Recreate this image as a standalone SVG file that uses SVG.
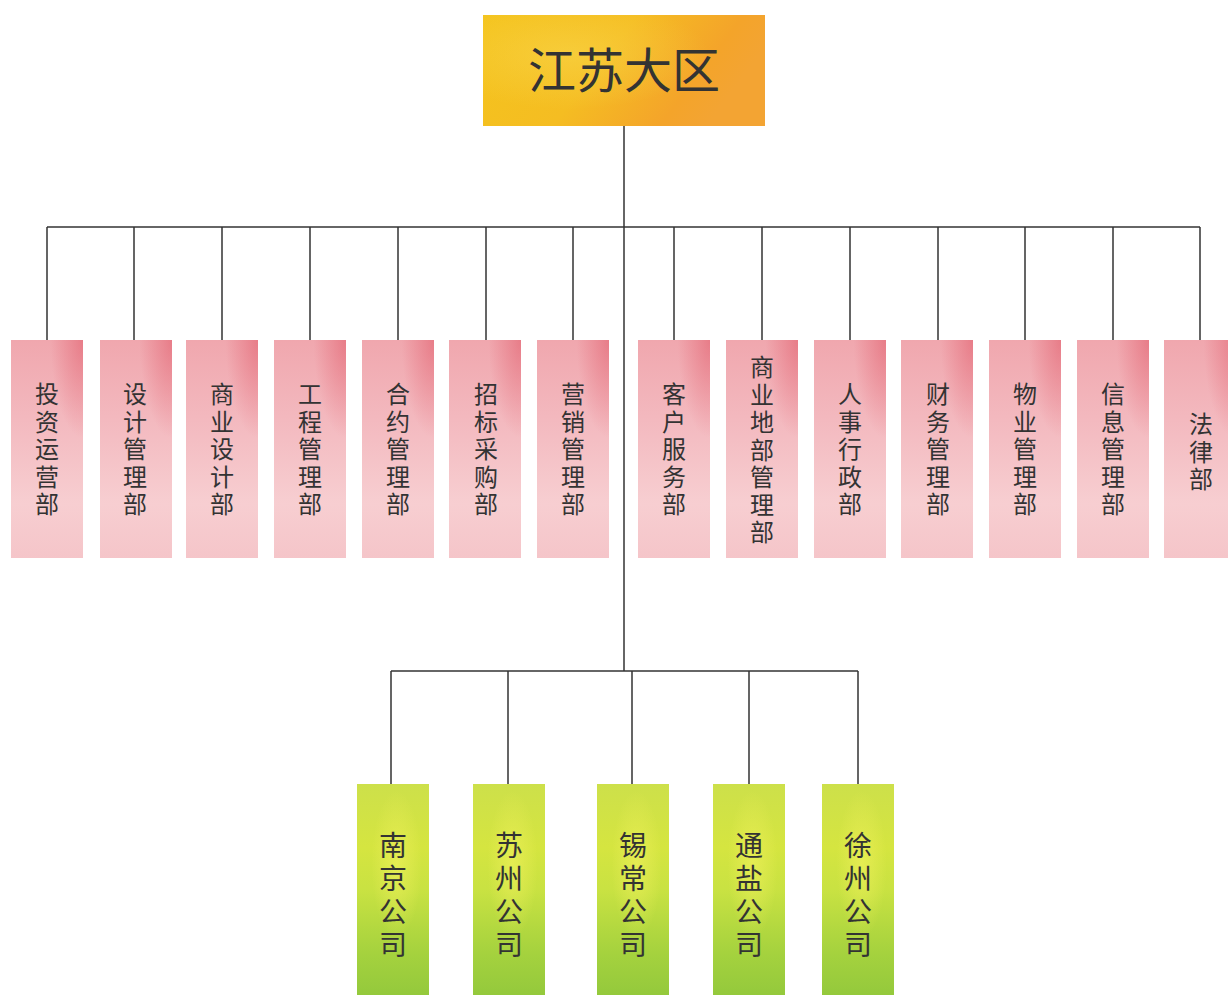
<svg xmlns="http://www.w3.org/2000/svg" width="1228" height="995" viewBox="0 0 1228 995">
<defs>
<linearGradient id="gY" x1="0" y1="0" x2="1" y2="0.3">
<stop offset="0" stop-color="#f4c41d"/>
<stop offset="0.5" stop-color="#f5bd22"/>
<stop offset="0.85" stop-color="#f4a42a"/>
<stop offset="1" stop-color="#f3a433"/>
</linearGradient>
<radialGradient id="gYh" cx="0.3" cy="0.35" r="0.5">
<stop offset="0" stop-color="#f9d54a" stop-opacity="0.6"/>
<stop offset="1" stop-color="#f9d54a" stop-opacity="0"/>
</radialGradient>
<linearGradient id="gP" x1="0" y1="0" x2="0" y2="1">
<stop offset="0" stop-color="#f0a7ae"/>
<stop offset="0.35" stop-color="#f3b8be"/>
<stop offset="0.75" stop-color="#f7ced1"/>
<stop offset="1" stop-color="#f5c5c9"/>
</linearGradient>
<radialGradient id="gPh" cx="1" cy="0" r="0.45">
<stop offset="0" stop-color="#e2606f" stop-opacity="0.6"/>
<stop offset="1" stop-color="#e2606f" stop-opacity="0"/>
</radialGradient>
<linearGradient id="gG" x1="0" y1="0" x2="0" y2="1">
<stop offset="0" stop-color="#cde04a"/>
<stop offset="0.3" stop-color="#d5e540"/>
<stop offset="0.5" stop-color="#c9e242"/>
<stop offset="0.8" stop-color="#a5d23e"/>
<stop offset="1" stop-color="#94c93c"/>
</linearGradient>
<radialGradient id="gGh" cx="0.55" cy="0.38" r="0.35">
<stop offset="0" stop-color="#eef05a" stop-opacity="0.7"/>
<stop offset="1" stop-color="#eef05a" stop-opacity="0"/>
</radialGradient>
</defs>
<style>
.ln{stroke:#333;stroke-width:1.5;fill:none}
.t{font-family:"Noto Sans CJK SC","Noto Sans",sans-serif;fill:#333;text-anchor:middle}
.td{font-size:24px}
.tc{font-size:28px}
.tt{font-size:48px}
</style>
<rect width="1228" height="995" fill="#ffffff"/>
<g id="connectors">
<path class="ln" d="M624 126V671"/>
<path class="ln" d="M47 227H1200"/>
<path class="ln" d="M47 227V340M134 227V340M222 227V340M310 227V340M398 227V340M486 227V340M573 227V340M674 227V340M762 227V340M850 227V340M938 227V340M1025 227V340M1113 227V340M1200 227V340"/>
<path class="ln" d="M391 671H858"/>
<path class="ln" d="M391 671V784M508 671V784M632 671V784M749 671V784M858 671V784"/>
</g>
<g id="root">
<rect x="483" y="15" width="282" height="111" fill="url(#gY)"/>
<rect x="483" y="15" width="282" height="111" fill="url(#gYh)"/>
<text class="t tt" x="624" y="88">江苏大区</text>
</g>
<g id="dept1"><rect x="11" y="340" width="72" height="218" fill="url(#gP)"/><rect x="11" y="340" width="72" height="218" fill="url(#gPh)"/>
<text class="t td"><tspan x="47" y="403">投</tspan><tspan x="47" dy="27.5">资</tspan><tspan x="47" dy="27.5">运</tspan><tspan x="47" dy="27.5">营</tspan><tspan x="47" dy="27.5">部</tspan></text></g>
<g id="dept2"><rect x="100" y="340" width="72" height="218" fill="url(#gP)"/><rect x="100" y="340" width="72" height="218" fill="url(#gPh)"/>
<text class="t td"><tspan x="135" y="403">设</tspan><tspan x="135" dy="27.5">计</tspan><tspan x="135" dy="27.5">管</tspan><tspan x="135" dy="27.5">理</tspan><tspan x="135" dy="27.5">部</tspan></text></g>
<g id="dept3"><rect x="186" y="340" width="72" height="218" fill="url(#gP)"/><rect x="186" y="340" width="72" height="218" fill="url(#gPh)"/>
<text class="t td"><tspan x="222" y="403">商</tspan><tspan x="222" dy="27.5">业</tspan><tspan x="222" dy="27.5">设</tspan><tspan x="222" dy="27.5">计</tspan><tspan x="222" dy="27.5">部</tspan></text></g>
<g id="dept4"><rect x="274" y="340" width="72" height="218" fill="url(#gP)"/><rect x="274" y="340" width="72" height="218" fill="url(#gPh)"/>
<text class="t td"><tspan x="310" y="403">工</tspan><tspan x="310" dy="27.5">程</tspan><tspan x="310" dy="27.5">管</tspan><tspan x="310" dy="27.5">理</tspan><tspan x="310" dy="27.5">部</tspan></text></g>
<g id="dept5"><rect x="362" y="340" width="72" height="218" fill="url(#gP)"/><rect x="362" y="340" width="72" height="218" fill="url(#gPh)"/>
<text class="t td"><tspan x="398" y="403">合</tspan><tspan x="398" dy="27.5">约</tspan><tspan x="398" dy="27.5">管</tspan><tspan x="398" dy="27.5">理</tspan><tspan x="398" dy="27.5">部</tspan></text></g>
<g id="dept6"><rect x="449" y="340" width="72" height="218" fill="url(#gP)"/><rect x="449" y="340" width="72" height="218" fill="url(#gPh)"/>
<text class="t td"><tspan x="486" y="403">招</tspan><tspan x="486" dy="27.5">标</tspan><tspan x="486" dy="27.5">采</tspan><tspan x="486" dy="27.5">购</tspan><tspan x="486" dy="27.5">部</tspan></text></g>
<g id="dept7"><rect x="537" y="340" width="72" height="218" fill="url(#gP)"/><rect x="537" y="340" width="72" height="218" fill="url(#gPh)"/>
<text class="t td"><tspan x="573" y="403">营</tspan><tspan x="573" dy="27.5">销</tspan><tspan x="573" dy="27.5">管</tspan><tspan x="573" dy="27.5">理</tspan><tspan x="573" dy="27.5">部</tspan></text></g>
<g id="dept8"><rect x="638" y="340" width="72" height="218" fill="url(#gP)"/><rect x="638" y="340" width="72" height="218" fill="url(#gPh)"/>
<text class="t td"><tspan x="674" y="403">客</tspan><tspan x="674" dy="27.5">户</tspan><tspan x="674" dy="27.5">服</tspan><tspan x="674" dy="27.5">务</tspan><tspan x="674" dy="27.5">部</tspan></text></g>
<g id="dept9"><rect x="726" y="340" width="72" height="218" fill="url(#gP)"/><rect x="726" y="340" width="72" height="218" fill="url(#gPh)"/>
<text class="t td"><tspan x="762" y="376">商</tspan><tspan x="762" dy="27.5">业</tspan><tspan x="762" dy="27.5">地</tspan><tspan x="762" dy="27.5">部</tspan><tspan x="762" dy="27.5">管</tspan><tspan x="762" dy="27.5">理</tspan><tspan x="762" dy="27.5">部</tspan></text></g>
<g id="dept10"><rect x="814" y="340" width="72" height="218" fill="url(#gP)"/><rect x="814" y="340" width="72" height="218" fill="url(#gPh)"/>
<text class="t td"><tspan x="850" y="403">人</tspan><tspan x="850" dy="27.5">事</tspan><tspan x="850" dy="27.5">行</tspan><tspan x="850" dy="27.5">政</tspan><tspan x="850" dy="27.5">部</tspan></text></g>
<g id="dept11"><rect x="901" y="340" width="72" height="218" fill="url(#gP)"/><rect x="901" y="340" width="72" height="218" fill="url(#gPh)"/>
<text class="t td"><tspan x="938" y="403">财</tspan><tspan x="938" dy="27.5">务</tspan><tspan x="938" dy="27.5">管</tspan><tspan x="938" dy="27.5">理</tspan><tspan x="938" dy="27.5">部</tspan></text></g>
<g id="dept12"><rect x="989" y="340" width="72" height="218" fill="url(#gP)"/><rect x="989" y="340" width="72" height="218" fill="url(#gPh)"/>
<text class="t td"><tspan x="1025" y="403">物</tspan><tspan x="1025" dy="27.5">业</tspan><tspan x="1025" dy="27.5">管</tspan><tspan x="1025" dy="27.5">理</tspan><tspan x="1025" dy="27.5">部</tspan></text></g>
<g id="dept13"><rect x="1077" y="340" width="72" height="218" fill="url(#gP)"/><rect x="1077" y="340" width="72" height="218" fill="url(#gPh)"/>
<text class="t td"><tspan x="1113" y="403">信</tspan><tspan x="1113" dy="27.5">息</tspan><tspan x="1113" dy="27.5">管</tspan><tspan x="1113" dy="27.5">理</tspan><tspan x="1113" dy="27.5">部</tspan></text></g>
<g id="dept14"><rect x="1164" y="340" width="72" height="218" fill="url(#gP)"/><rect x="1164" y="340" width="72" height="218" fill="url(#gPh)"/>
<text class="t td"><tspan x="1201" y="433">法</tspan><tspan x="1201" dy="27.5">律</tspan><tspan x="1201" dy="27.5">部</tspan></text></g>
<g id="co1"><rect x="357" y="784" width="72" height="211" fill="url(#gG)"/><rect x="357" y="784" width="72" height="211" fill="url(#gGh)"/>
<text class="t tc"><tspan x="393" y="856">南</tspan><tspan x="393" dy="33">京</tspan><tspan x="393" dy="33">公</tspan><tspan x="393" dy="33">司</tspan></text></g>
<g id="co2"><rect x="473" y="784" width="72" height="211" fill="url(#gG)"/><rect x="473" y="784" width="72" height="211" fill="url(#gGh)"/>
<text class="t tc"><tspan x="509" y="856">苏</tspan><tspan x="509" dy="33">州</tspan><tspan x="509" dy="33">公</tspan><tspan x="509" dy="33">司</tspan></text></g>
<g id="co3"><rect x="597" y="784" width="72" height="211" fill="url(#gG)"/><rect x="597" y="784" width="72" height="211" fill="url(#gGh)"/>
<text class="t tc"><tspan x="633" y="856">锡</tspan><tspan x="633" dy="33">常</tspan><tspan x="633" dy="33">公</tspan><tspan x="633" dy="33">司</tspan></text></g>
<g id="co4"><rect x="713" y="784" width="72" height="211" fill="url(#gG)"/><rect x="713" y="784" width="72" height="211" fill="url(#gGh)"/>
<text class="t tc"><tspan x="749" y="856">通</tspan><tspan x="749" dy="33">盐</tspan><tspan x="749" dy="33">公</tspan><tspan x="749" dy="33">司</tspan></text></g>
<g id="co5"><rect x="822" y="784" width="72" height="211" fill="url(#gG)"/><rect x="822" y="784" width="72" height="211" fill="url(#gGh)"/>
<text class="t tc"><tspan x="858" y="856">徐</tspan><tspan x="858" dy="33">州</tspan><tspan x="858" dy="33">公</tspan><tspan x="858" dy="33">司</tspan></text></g>
</svg>
